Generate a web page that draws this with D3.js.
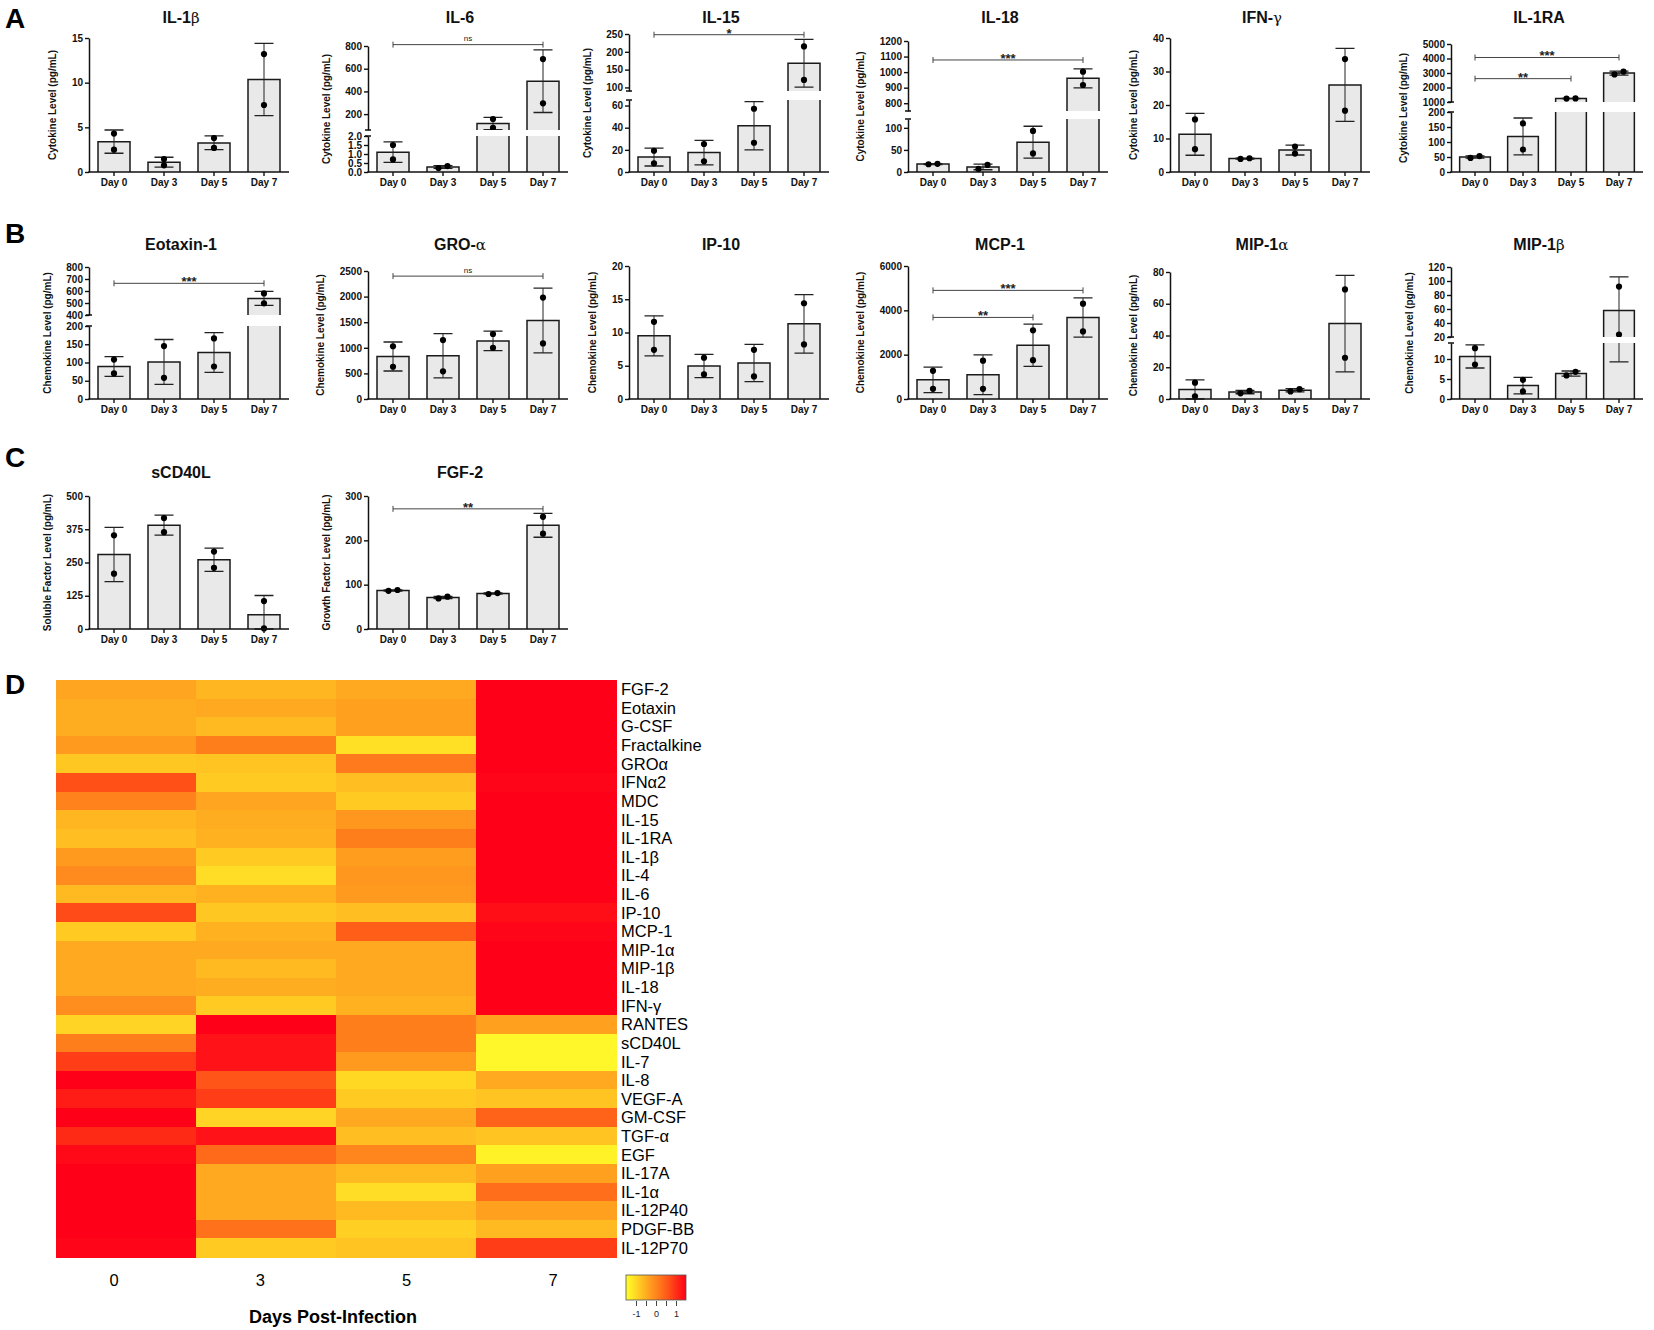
<!DOCTYPE html>
<html lang="en">
  <head>
    <meta charset="UTF-8" />
    <title>Cytokine, chemokine and growth factor panels</title>
    <script src="https://d3js.org/d3.v7.min.js"></script>
    <style>
      body {
        margin: 0;
        background: #fff;
      }
      svg {
        display: block;
        font-family: "Liberation Sans", Arial, sans-serif;
      }
    </style>
  </head>
  <body>
    <svg id="fig" width="1654" height="1330"></svg>

    <script>
      const days = ["Day 0", "Day 3", "Day 5", "Day 7"];

      // one row per day: mean, error low, error high, replicate 1, replicate 2
      const il1b = [
        [3.4, 2.1, 4.7, 4.3, 2.5],
        [1.1, 0.55, 1.65, 1.45, 0.75],
        [3.25, 2.5, 4.05, 3.8, 2.7],
        [10.35, 6.3, 14.4, 13.2, 7.5],
      ];
      const il6 = [
        [1.1, 0.53, 1.67, 1.5, 0.7],
        [0.275, 0.2, 0.35, 0.22, 0.33],
        [118, 64, 172, 157, 80],
        [490, 214, 766, 685, 295],
      ];
      const il15 = [
        [13.5, 5.4, 21.6, 19.2, 7.8],
        [17.5, 6.5, 28.5, 25.3, 9.7],
        [41.8, 20, 63.5, 57.1, 26.4],
        [168, 101, 235, 215, 121],
      ];
      const il18 = [
        [18, 17, 19, 17.5, 18.5],
        [11.5, 5.1, 17.9, 7, 16],
        [67.5, 31.4, 103.6, 93, 42],
        [960, 899, 1021, 1003, 917],
      ];
      const ifng = [
        [11.25, 5, 17.5, 15.7, 6.8],
        [4.0, 3.85, 4.15, 3.9, 4.1],
        [6.55, 5.07, 8.03, 7.6, 5.5],
        [26, 15.1, 36.9, 33.7, 18.3],
      ];
      const il1ra = [
        [50, 46, 54, 47, 53],
        [118.5, 57, 180, 162, 75],
        [1242, 1230, 1255, 1235, 1250],
        [2995, 2860, 3130, 2900, 3090],
      ];
      const eotaxin = [
        [89, 62, 116, 108, 70],
        [101.5, 40, 163, 145, 58],
        [127.5, 73, 182, 166, 89],
        [538.5, 480, 597, 580, 497],
      ];
      const groa = [
        [830, 547, 1113, 1030, 630],
        [845, 414, 1276, 1150, 540],
        [1135, 944, 1326, 1270, 1000],
        [1532, 900, 2165, 1980, 1085],
      ];
      const ip10 = [
        [9.5, 6.5, 12.5, 11.6, 7.4],
        [4.95, 3.2, 6.7, 6.2, 3.7],
        [5.4, 2.6, 8.2, 7.4, 3.4],
        [11.3, 6.9, 15.7, 14.4, 8.2],
      ];
      const mcp1 = [
        [865, 292, 1438, 1270, 460],
        [1095, 197, 1993, 1730, 460],
        [2425, 1470, 3380, 3100, 1750],
        [3675, 2791, 4559, 4300, 3050],
      ];
      const mip1a = [
        [6.0, 0, 12.1, 10.3, 1.7],
        [4.35, 3.3, 5.4, 3.6, 5.1],
        [5.5, 4.5, 6.5, 4.8, 6.2],
        [47.5, 17.1, 77.9, 69, 26],
      ];
      const mip1b = [
        [10.65, 7.75, 13.55, 12.7, 8.6],
        [3.35, 1.3, 5.4, 4.8, 1.9],
        [6.35, 5.7, 7.0, 5.9, 6.8],
        [57.75, 9.3, 106, 92, 23.5],
      ];
      const scd40l = [
        [280, 178, 382, 352, 208],
        [390.5, 353, 428, 417, 364],
        [260.5, 217, 304, 291, 230],
        [53.5, 0, 126, 105, 2],
      ];
      const fgf2 = [
        [87, 85.6, 88.4, 86, 88],
        [71, 68.5, 73.5, 69, 73],
        [80, 78.6, 81.4, 79, 81],
        [234, 207, 261, 253, 215],
      ];

      // y tick values (broken axes have a low and a high set)
      const il1bTicks = [0, 5, 10, 15];
      const il6TicksLow = [0, 0.5, 1, 1.5, 2];
      const il6TicksHigh = [200, 400, 600, 800];
      const il15TicksLow = [0, 20, 40, 60];
      const il15TicksHigh = [100, 150, 200, 250];
      const il18TicksLow = [0, 50, 100];
      const il18TicksHigh = [800, 900, 1000, 1100, 1200];
      const ifngTicks = [0, 10, 20, 30, 40];
      const il1raTicksLow = [0, 50, 100, 150, 200];
      const il1raTicksHigh = [1000, 2000, 3000, 4000, 5000];
      const eotaxinTicksLow = [0, 50, 100, 150, 200];
      const eotaxinTicksHigh = [400, 500, 600, 700, 800];
      const groaTicks = [0, 500, 1000, 1500, 2000, 2500];
      const ip10Ticks = [0, 5, 10, 15, 20];
      const mcp1Ticks = [0, 2000, 4000, 6000];
      const mip1aTicks = [0, 20, 40, 60, 80];
      const mip1bTicksLow = [0, 5, 10];
      const mip1bTicksHigh = [20, 40, 60, 80, 100, 120];
      const scd40lTicks = [0, 125, 250, 375, 500];
      const fgf2Ticks = [0, 100, 200, 300];

      // significance brackets: from day, to day, height, label
      const il6Sig = [[0, 3, 812, "ns"]];
      const il15Sig = [[0, 3, 248, "*"]];
      const il18Sig = [[0, 3, 1078, "***"]];
      const il1raSig = [
        [0, 3, 4070, "***"],
        [0, 2, 2610, "**"],
      ];
      const eotaxinSig = [[0, 3, 664, "***"]];
      const groaSig = [[0, 3, 2400, "ns"]];
      const mcp1Sig = [
        [0, 3, 4900, "***"],
        [0, 2, 3680, "**"],
      ];
      const fgf2Sig = [[0, 3, 271, "**"]];

      // heatmap (row z-scores)
      const heatGenes = [
        "FGF-2", "Eotaxin", "G-CSF", "Fractalkine", "GROα", "IFNα2", "MDC",
        "IL-15", "IL-1RA", "IL-1β", "IL-4", "IL-6", "IP-10", "MCP-1",
        "MIP-1α", "MIP-1β", "IL-18", "IFN-γ", "RANTES", "sCD40L", "IL-7",
        "IL-8", "VEGF-A", "GM-CSF", "TGF-α", "EGF", "IL-17A", "IL-1α",
        "IL-12P40", "PDGF-BB", "IL-12P70",
      ];
      const heatDays = ["0", "3", "5", "7"];
      const heatZ = [
        [-0.4, -0.6, -0.45, 1.5],
        [-0.5, -0.45, -0.35, 1.5],
        [-0.5, -0.65, -0.35, 1.5],
        [-0.25, 0.1, -1.1, 1.5],
        [-0.8, -0.75, 0.15, 1.5],
        [0.65, -0.85, -0.7, 1.45],
        [0.05, -0.4, -0.85, 1.5],
        [-0.6, -0.5, -0.2, 1.5],
        [-0.7, -0.55, 0.1, 1.5],
        [-0.25, -0.85, -0.3, 1.5],
        [-0.05, -1.05, -0.2, 1.5],
        [-0.65, -0.55, -0.25, 1.5],
        [0.7, -0.8, -0.7, 1.35],
        [-0.85, -0.55, 0.5, 1.45],
        [-0.45, -0.45, -0.45, 1.5],
        [-0.45, -0.65, -0.45, 1.5],
        [-0.45, -0.5, -0.45, 1.5],
        [-0.1, -0.85, -0.55, 1.5],
        [-0.95, 1.5, 0.1, -0.35],
        [0.1, 1.3, 0.1, -1.4],
        [0.85, 1.3, -0.25, -1.4],
        [1.5, 0.6, -1.0, -0.45],
        [1.2, 0.85, -0.85, -0.75],
        [1.5, -0.95, -0.45, 0.45],
        [1.05, 1.3, -0.7, -0.75],
        [1.4, 0.35, 0.0, -1.35],
        [1.5, -0.45, -0.65, -0.35],
        [1.5, -0.45, -1.05, 0.3],
        [1.5, -0.45, -0.65, -0.35],
        [1.5, 0.25, -0.9, -0.65],
        [1.45, -0.85, -0.75, 0.85],
      ];
      const legendTicks = [-1, -0.5, 0, 0.5, 1];

      const svg = d3.select("#fig");

      const rowBottom = [172, 399, 629];
      const titleY = [23, 250, 478];
      const colX = [89, 368, 629, 908, 1170, 1451];
      const colW = [200, 200, 200, 200, 200, 192];

      const cyto = "Cytokine Level (pg/mL)";
      const chemo = "Chemokine Level (pg/mL)";

      const panels = [
        { name: "IL-1", greek: "β", data: il1b, row: 0, col: 0, top: 38, domain: [0, 15], ticks: il1bTicks, label: cyto },
        { name: "IL-6", data: il6, row: 0, col: 1, top: 46, low: [0, 2], high: [60, 800], lowTop: 136, highBottom: 130, ticks: il6TicksLow, ticksHigh: il6TicksHigh, lowFormat: ".1f", sig: il6Sig, label: cyto },
        { name: "IL-15", data: il15, row: 0, col: 2, top: 34, low: [0, 65], high: [90, 250], lowTop: 100, highBottom: 91, ticks: il15TicksLow, ticksHigh: il15TicksHigh, sig: il15Sig, label: cyto },
        { name: "IL-18", data: il18, row: 0, col: 3, top: 41, low: [0, 120], high: [750, 1200], lowTop: 119, highBottom: 111, ticks: il18TicksLow, ticksHigh: il18TicksHigh, sig: il18Sig, label: cyto },
        { name: "IFN-", greek: "γ", data: ifng, row: 0, col: 4, top: 38, domain: [0, 40], ticks: ifngTicks, label: cyto },
        { name: "IL-1RA", data: il1ra, row: 0, col: 5, top: 44, low: [0, 200], high: [1000, 5000], lowTop: 112, highBottom: 102, ticks: il1raTicksLow, ticksHigh: il1raTicksHigh, sig: il1raSig, label: cyto },
        { name: "Eotaxin-1", data: eotaxin, row: 1, col: 0, top: 267, low: [0, 200], high: [400, 800], lowTop: 326, highBottom: 315, ticks: eotaxinTicksLow, ticksHigh: eotaxinTicksHigh, sig: eotaxinSig, label: chemo },
        { name: "GRO-", greek: "α", data: groa, row: 1, col: 1, top: 271, domain: [0, 2500], ticks: groaTicks, sig: groaSig, label: chemo },
        { name: "IP-10", data: ip10, row: 1, col: 2, top: 266, domain: [0, 20], ticks: ip10Ticks, label: chemo },
        { name: "MCP-1", data: mcp1, row: 1, col: 3, top: 266, domain: [0, 6000], ticks: mcp1Ticks, sig: mcp1Sig, label: chemo },
        { name: "MIP-1", greek: "α", data: mip1a, row: 1, col: 4, top: 272, domain: [0, 80], ticks: mip1aTicks, label: chemo },
        { name: "MIP-1", greek: "β", data: mip1b, row: 1, col: 5, top: 267, low: [0, 14], high: [20, 120], lowTop: 343, highBottom: 337, ticks: mip1bTicksLow, ticksHigh: mip1bTicksHigh, label: chemo },
        { name: "sCD40L", data: scd40l, row: 2, col: 0, top: 496, domain: [0, 500], ticks: scd40lTicks, label: "Soluble Factor Level (pg/mL)" },
        { name: "FGF-2", data: fgf2, row: 2, col: 1, top: 496, domain: [0, 300], ticks: fgf2Ticks, sig: fgf2Sig, label: "Growth Factor Level (pg/mL)" },
      ];

      function styleAxis(sel) {
        sel.select(".domain").attr("stroke", "#111").attr("stroke-width", 1.5);
        sel.selectAll(".tick line").attr("stroke", "#111").attr("stroke-width", 1.4);
        sel
          .selectAll("text")
          .attr("fill", "#111")
          .attr("font-family", "Liberation Sans, Arial, sans-serif")
          .attr("font-weight", "bold")
          .attr("font-size", 10);
      }

      panels.forEach((p) => {
        const bottom = rowBottom[p.row];
        const x0 = colX[p.col];
        const w = colW[p.col];
        const g = svg.append("g");

        const x = d3
          .scaleBand()
          .domain(days)
          .range([x0, x0 + w])
          .paddingInner(0.36)
          .paddingOuter(0.18);
        const bw = x.bandwidth();

        let yLow, yHigh, y;
        if (p.low) {
          yLow = d3.scaleLinear().domain(p.low).range([bottom, p.lowTop]);
          yHigh = d3.scaleLinear().domain(p.high).range([p.highBottom, p.top]);
          const yGap = d3
            .scaleLinear()
            .domain([p.low[1], p.high[0]])
            .range([p.lowTop, p.highBottom]);
          y = (v) => (v <= p.low[1] ? yLow(v) : v >= p.high[0] ? yHigh(v) : yGap(v));
        } else {
          yLow = d3.scaleLinear().domain(p.domain).range([bottom, p.top]);
          y = yLow;
        }

        // bars
        g.selectAll(".bar")
          .data(p.data)
          .enter()
          .append("path")
          .attr("d", (d, i) => {
            const bx = x(days[i]);
            return `M${bx},${y(0)}V${y(d[0])}H${bx + bw}V${y(0)}`;
          })
          .attr("fill", "#e9e9e9")
          .attr("stroke", "#1a1a1a")
          .attr("stroke-width", 1.5);

        // error bars
        const capHalf = 9.5;
        p.data.forEach((d, i) => {
          const cx = x(days[i]) + bw / 2;
          const lo = y(Math.max(0, d[1]));
          const hi = y(d[2]);
          g.append("path")
            .attr("d", `M${cx},${lo}V${hi}`)
            .attr("stroke", "#222")
            .attr("stroke-width", 1);
          g.append("path")
            .attr("d", `M${cx - capHalf},${hi}H${cx + capHalf}M${cx - capHalf},${lo}H${cx + capHalf}`)
            .attr("stroke", "#222")
            .attr("stroke-width", 1.3);

          // replicates, nudged sideways when they overlap
          const pts = [d[3], d[4]].sort((a, b) => a - b);
          const py = pts.map((v) => y(v));
          const close = Math.abs(py[0] - py[1]) < 6;
          pts.forEach((v, k) => {
            g.append("circle")
              .attr("cx", cx + (close ? (k === 0 ? -4.5 : 4.5) : 0))
              .attr("cy", py[k])
              .attr("r", 3.1)
              .attr("fill", "#000");
          });
        });

        // gap across a broken axis
        if (p.low) {
          g.append("rect")
            .attr("x", x0 + 1)
            .attr("y", p.highBottom)
            .attr("width", w)
            .attr("height", p.lowTop - p.highBottom)
            .attr("fill", "#fff");
        }

        // axes
        const axLow = g
          .append("g")
          .attr("transform", `translate(${x0},0)`)
          .call(
            d3
              .axisLeft(yLow)
              .tickValues(p.ticks)
              .tickSize(4)
              .tickSizeOuter(0)
              .tickPadding(2)
              .tickFormat(p.lowFormat ? d3.format(p.lowFormat) : d3.format("d"))
          );
        styleAxis(axLow);
        let tickLeft = axLow.node().getBBox().x;

        if (p.low) {
          const axHigh = g
            .append("g")
            .attr("transform", `translate(${x0},0)`)
            .call(
              d3
                .axisLeft(yHigh)
                .tickValues(p.ticksHigh)
                .tickSize(4)
                .tickSizeOuter(0)
                .tickPadding(2)
                .tickFormat(d3.format("d"))
            );
          styleAxis(axHigh);
          tickLeft = Math.min(tickLeft, axHigh.node().getBBox().x);
          g.append("path")
            .attr("d", `M${x0 - 3},${p.lowTop}H${x0 + 3}M${x0 - 3},${p.highBottom}H${x0 + 3}`)
            .attr("stroke", "#111")
            .attr("stroke-width", 1.6);
        }

        const axX = g
          .append("g")
          .attr("transform", `translate(0,${bottom})`)
          .call(d3.axisBottom(x).tickSize(4).tickSizeOuter(0).tickPadding(3));
        styleAxis(axX);
        axX.select(".domain").attr("d", `M${x0 - 0.75},0H${x0 + w}`);

        // y label
        g.append("text")
          .attr("transform", `translate(${x0 + tickLeft - 15.5},${(bottom + p.top) / 2}) rotate(-90)`)
          .attr("text-anchor", "middle")
          .attr("font-weight", "bold")
          .attr("font-size", 10)
          .attr("fill", "#111")
          .text(p.label);

        // title
        const t = g
          .append("text")
          .attr("x", x0 + w / 2 - 8)
          .attr("y", titleY[p.row])
          .attr("text-anchor", "middle")
          .attr("font-weight", "bold")
          .attr("font-size", 16)
          .attr("fill", "#111");
        t.append("tspan").text(p.name);
        if (p.greek) {
          t.append("tspan")
            .attr("font-family", "DejaVu Serif, serif")
            .attr("font-weight", "normal")
            .attr("font-size", 15)
            .text(p.greek);
        }

        // significance brackets
        (p.sig || []).forEach(([a, b, v, lab]) => {
          const xa = x(days[a]) + bw / 2;
          const xb = x(days[b]) + bw / 2;
          const yy = y(v);
          g.append("path")
            .attr("d", `M${xa},${yy - 3}V${yy + 3}M${xa},${yy}H${xb}M${xb},${yy - 3}V${yy + 3}`)
            .attr("stroke", "#444")
            .attr("stroke-width", 1)
            .attr("fill", "none");
          const ns = lab === "ns";
          g.append("text")
            .attr("x", (xa + xb) / 2)
            .attr("y", ns ? yy - 3.5 : yy + 3)
            .attr("text-anchor", "middle")
            .attr("font-size", ns ? 8 : 13)
            .attr("font-weight", ns ? "normal" : "bold")
            .attr("fill", "#222")
            .text(lab);
        });
      });

      // panel letters
      [
        ["A", 28],
        ["B", 243],
        ["C", 467],
        ["D", 694],
      ].forEach(([l, yy]) => {
        svg
          .append("text")
          .attr("x", 5)
          .attr("y", yy)
          .attr("font-weight", "bold")
          .attr("font-size", 28)
          .attr("fill", "#000")
          .text(l);
      });

      // heatmap
      const heatX = d3.scaleBand().domain(heatDays).range([56, 616]);
      const heatY = d3.scaleBand().domain(heatGenes).range([680, 1257]);
      const heatColor = d3
        .scaleLinear()
        .domain([-1.5, -1, -0.5, 0, 0.5, 1, 1.5])
        .range(["#ffff2a", "#ffd824", "#ffad20", "#ff861d", "#ff5e19", "#ff2f16", "#ff0019"])
        .clamp(true);

      const hm = svg.append("g");
      heatGenes.forEach((gene, r) => {
        heatDays.forEach((day, c) => {
          hm.append("rect")
            .attr("x", heatX(day))
            .attr("y", heatY(gene))
            .attr("width", heatX.bandwidth() + 0.5)
            .attr("height", heatY.bandwidth() + 0.5)
            .attr("fill", heatColor(heatZ[r][c]))
            .attr("shape-rendering", "crispEdges");
        });
        hm.append("text")
          .attr("x", 621)
          .attr("y", heatY(gene) + heatY.bandwidth() / 2)
          .attr("dy", "0.36em")
          .attr("font-size", 16.5)
          .attr("fill", "#000")
          .text(gene);
      });

      const dayPos = d3.scalePoint().domain(heatDays).range([114, 553]);
      heatDays.forEach((d) => {
        hm.append("text")
          .attr("x", dayPos(d))
          .attr("y", 1286)
          .attr("text-anchor", "middle")
          .attr("font-size", 16.5)
          .attr("fill", "#000")
          .text(d);
      });
      hm.append("text")
        .attr("x", 333)
        .attr("y", 1323)
        .attr("text-anchor", "middle")
        .attr("font-weight", "bold")
        .attr("font-size", 18)
        .attr("fill", "#000")
        .text("Days Post-Infection");

      // colour key
      const legX = d3.scaleLinear().domain([-1.5, 1.5]).range([626, 686]);
      const grad = svg
        .append("defs")
        .append("linearGradient")
        .attr("id", "heatGrad")
        .attr("x1", "0%")
        .attr("x2", "100%");
      d3.range(0, 1.0001, 0.1).forEach((f) => {
        grad
          .append("stop")
          .attr("offset", `${f * 100}%`)
          .attr("stop-color", heatColor(-1.5 + 3 * f));
      });
      svg
        .append("rect")
        .attr("x", legX(-1.5))
        .attr("y", 1275)
        .attr("width", legX(1.5) - legX(-1.5))
        .attr("height", 25)
        .attr("fill", "url(#heatGrad)")
        .attr("stroke", "#555")
        .attr("stroke-width", 0.8);
      const legAx = svg
        .append("g")
        .attr("transform", "translate(0,1301)")
        .call(
          d3
            .axisBottom(legX)
            .tickValues(legendTicks)
            .tickSize(5)
            .tickPadding(5)
            .tickFormat((v) => (Number.isInteger(v) ? String(v) : ""))
        );
      legAx.select(".domain").remove();
      legAx.selectAll(".tick line").attr("stroke", "#444");
      legAx
        .selectAll("text")
        .attr("font-family", "Liberation Sans, Arial, sans-serif")
        .attr("font-size", 9)
        .attr("fill", "#222");
    </script>
  </body>
</html>
